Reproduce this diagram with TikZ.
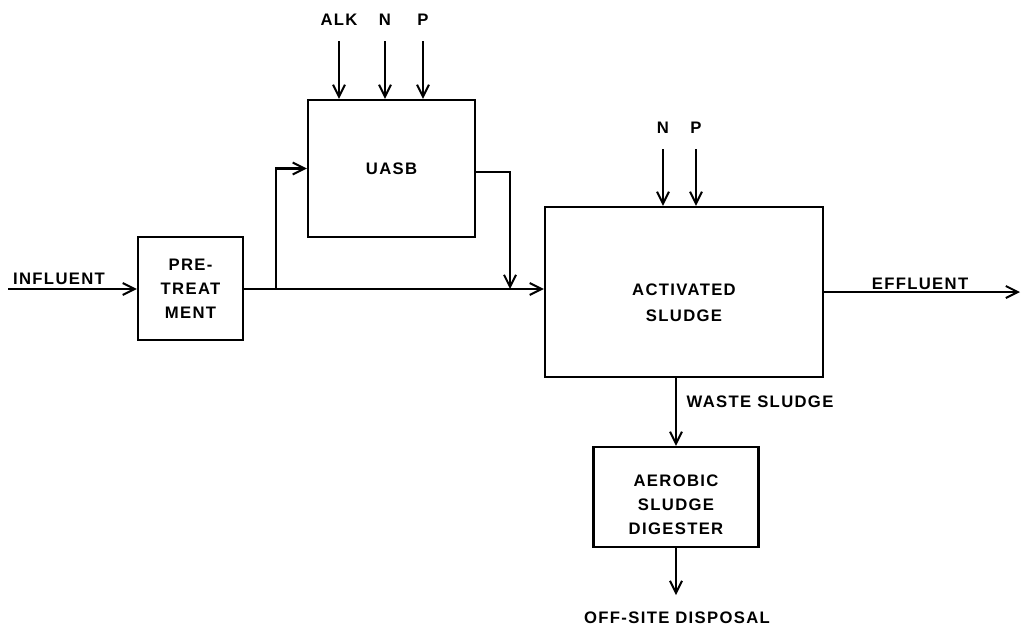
\documentclass[tikz,border=0pt]{standalone}
\usepackage{fontspec}
\newfontfamily\lblfont[LetterSpace=8]{Liberation Sans Bold}
\usetikzlibrary{arrows.meta,positioning,calc}

\begin{document}
\begin{tikzpicture}[
  x=0.75pt, y=-0.75pt,
  font=\lblfont\fontsize{12.5}{18}\selectfont,
  line width=1.6pt,
  unit/.style={draw,align=center,inner sep=2pt},
  tag/.style={inner sep=2pt},
  >={Straight Barb[length=9pt,width=9pt,line width=1.5pt]},
]
  \useasboundingbox (0,0) rectangle (1022,626);

  % process units
  \node[unit,minimum width=78.75pt,minimum height=77pt] (pre) at (190.5,288.5) {PRE-\\TREAT\\MENT};
  \node[unit,minimum width=125.25pt,minimum height=102.75pt] (uasb) at (391.5,168.5) {UASB};
  \node[unit,minimum width=208.5pt,minimum height=127.5pt,text height=45pt] (as) at (684,292) {ACTIVATED\\[1.5pt]SLUDGE};
  \node[unit,minimum width=123.75pt,minimum height=75pt,text height=57pt] (dig) at (676,497) {AEROBIC\\SLUDGE\\DIGESTER};

  % chemical additions
  \node[tag] (alk) at (339,20) {ALK};
  \node[tag] (n1) at (385,20) {N};
  \node[tag] (p1) at (423,20) {P};
  \node[tag] (n2) at (663,128) {N};
  \node[tag] (p2) at (696,128) {P};

  % stream labels
  \node[tag] (infl) at (59,279) {INFLUENT};
  \node[tag] (effl) at (920,284) {EFFLUENT};
  \node[tag,anchor=west] (waste) at (683,402) {WASTE SLUDGE};
  \node[tag] (off) at (677,618) {OFF-SITE DISPOSAL};

  \coordinate (in) at (8,289);
  \coordinate (out) at (1020,292);
  \coordinate (split) at (276,289);
  \coordinate (join) at (510,289);

  % flows
  \draw[->] (in) -- (pre.west |- in);
  \draw[->] (pre.east |- split) -- (as.west |- split);
  \draw[->] (split) |- (uasb.west);
  \draw[->] ([yshift=-2.5pt]uasb.east) -| (join);
  \draw[->] (as.east) -- (out);
  \draw[->] (as.south -| dig.north) -- (dig.north);
  \draw[->,shorten >=10pt] (dig.south) -- (dig.south |- off.north);

  \foreach \c/\u in {alk/uasb,n1/uasb,p1/uasb,n2/as,p2/as}
    \draw[->,shorten <=9pt] (\c.south) -- (\c.south |- \u.north);
\end{tikzpicture}
\end{document}
